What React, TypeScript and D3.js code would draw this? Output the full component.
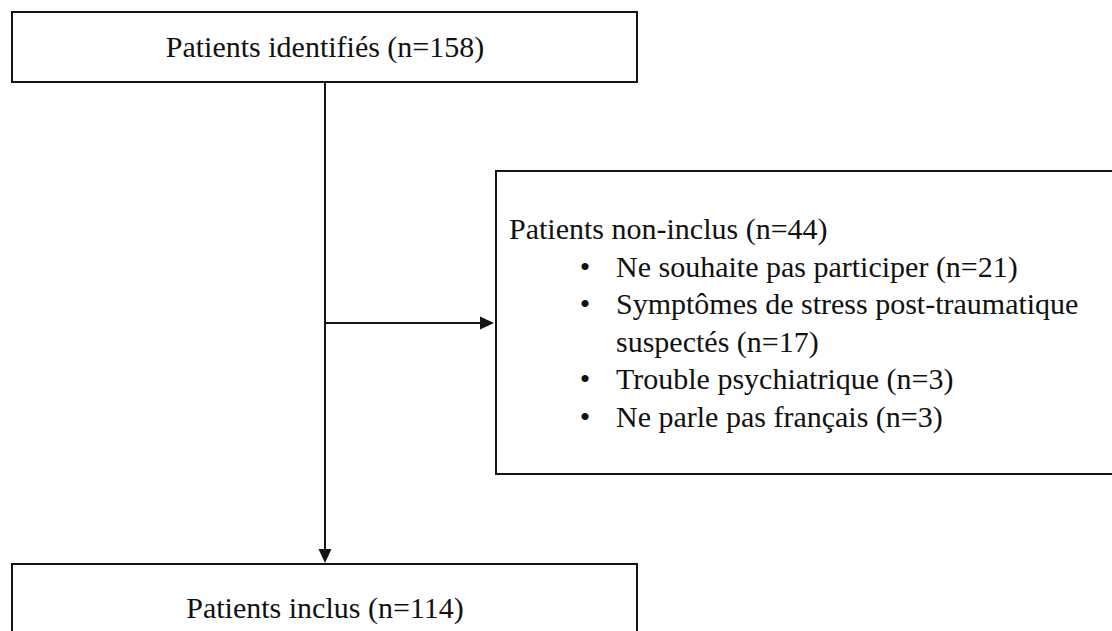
import React from "react";
import * as d3 from "d3";

// ---- Data ----
const stageLabels: string[] = ["Patients identifiés", "Patients inclus"];
const stageCounts: number[] = [158, 114];
const excludedLabel = "Patients non-inclus";
const excludedTotal = 44;
const excludedReasons: string[][] = [
  ["Ne souhaite pas participer"],
  ["Symptômes de stress post-traumatique", "suspectés"],
  ["Trouble psychiatrique"],
  ["Ne parle pas français"],
];
const excludedCounts: number[] = [21, 17, 3, 3];

// ---- Layout ----
const W = 1112;
const H = 631;
const FONT = "'Liberation Serif', 'Times New Roman', serif";
const FS = 30;
const STROKE = "#141414";
const SW = 2;

const x = d3.scaleLinear().domain([0, 1]).range([0, 1]);

export default function App() {
  const leftBox = { x0: 12, x1: 637 };
  const topBox = { y0: 12, y1: 82 };
  const botBox = { y0: 564, y1: 700 };
  const rightBox = { x0: 496, x1: 1200, y0: 171, y1: 474 };
  const cx = (leftBox.x0 + leftBox.x1) / 2 + 0.5;
  const branchY = 323;
  const lineH = 37.6;
  const headLen = 14;
  const headHalf = 6.5;

  // build lines for right box
  const lines: { text: string; bullet: boolean }[] = [];
  excludedReasons.forEach((parts, i) => {
    parts.forEach((p, j) => {
      const isLast = j === parts.length - 1;
      lines.push({
        text: isLast ? `${p} (n=${excludedCounts[i]})` : p,
        bullet: j === 0,
      });
    });
  });

  const line = d3.line<[number, number]>();

  const vTip = botBox.y0 - 1;
  const hTip = rightBox.x0 - 2;

  return (
    <svg
      width={W}
      height={H}
      style={{ position: "absolute", left: 0, top: 0, background: "#fff" }}
      fontFamily={FONT}
    >
      {/* top box */}
      <rect
        x={leftBox.x0}
        y={topBox.y0}
        width={leftBox.x1 - leftBox.x0}
        height={topBox.y1 - topBox.y0}
        fill="#fff"
        stroke={STROKE}
        strokeWidth={SW}
      />
      <text x={x(cx)} y={57} textAnchor="middle" fontSize={FS} fill="#111">
        {`${stageLabels[0]} (n=${stageCounts[0]})`}
      </text>

      {/* vertical connector */}
      <path
        d={line([
          [cx, topBox.y1],
          [cx, vTip - headLen],
        ]) || ""}
        stroke={STROKE}
        strokeWidth={SW}
        fill="none"
      />
      <path
        d={`M${cx - headHalf},${vTip - headLen} L${cx + headHalf},${vTip - headLen} L${cx},${vTip} Z`}
        fill={STROKE}
      />

      {/* horizontal branch */}
      <path
        d={line([
          [cx, branchY],
          [hTip - headLen, branchY],
        ]) || ""}
        stroke={STROKE}
        strokeWidth={SW}
        fill="none"
      />
      <path
        d={`M${hTip - headLen},${branchY - headHalf} L${hTip - headLen},${branchY + headHalf} L${hTip},${branchY} Z`}
        fill={STROKE}
      />

      {/* right box */}
      <rect
        x={rightBox.x0}
        y={rightBox.y0}
        width={rightBox.x1 - rightBox.x0}
        height={rightBox.y1 - rightBox.y0}
        fill="#fff"
        stroke={STROKE}
        strokeWidth={SW}
      />
      <text x={509} y={239} fontSize={FS} fill="#111">
        {`${excludedLabel} (n=${excludedTotal})`}
      </text>
      {lines.map((l, i) => (
        <g key={i}>
          {l.bullet && (
            <text
              x={585}
              y={239 + (i + 1) * lineH}
              fontSize={FS}
              textAnchor="middle"
              fill="#111"
            >
              •
            </text>
          )}
          <text x={616} y={239 + (i + 1) * lineH} fontSize={FS} fill="#111">
            {l.text}
          </text>
        </g>
      ))}

      {/* bottom box */}
      <rect
        x={leftBox.x0}
        y={botBox.y0}
        width={leftBox.x1 - leftBox.x0}
        height={botBox.y1 - botBox.y0}
        fill="#fff"
        stroke={STROKE}
        strokeWidth={SW}
      />
      <text x={cx} y={618} textAnchor="middle" fontSize={FS} fill="#111">
        {`${stageLabels[1]} (n=${stageCounts[1]})`}
      </text>
    </svg>
  );
}
